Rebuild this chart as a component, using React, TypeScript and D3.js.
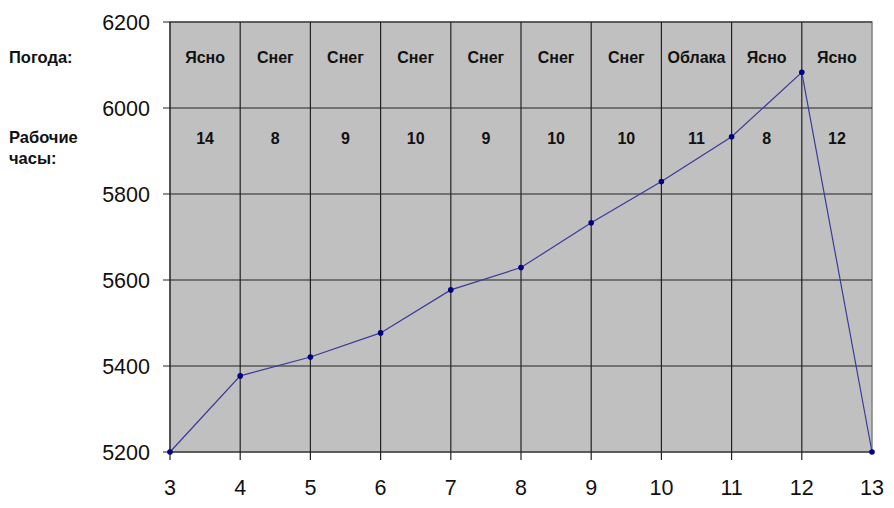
import React from "react";
import * as d3 from "d3";

const days = [3, 4, 5, 6, 7, 8, 9, 10, 11, 12, 13];
const values = [5200, 5377, 5421, 5477, 5577, 5629, 5733, 5829, 5933, 6083, 5200];
const weather = ["Ясно", "Снег", "Снег", "Снег", "Снег", "Снег", "Снег", "Облака", "Ясно", "Ясно"];
const hours = ["14", "8", "9", "10", "9", "10", "10", "11", "8", "12"];
const yTicks = [5200, 5400, 5600, 5800, 6000, 6200];
const weatherTitle = "Погода:";
const hoursTitle = ["Рабочие", "часы:"];

export default function App() {
  const W = 894, H = 508;
  const left = 170, right = 872, top = 22, bottom = 452;
  const x = d3.scaleLinear().domain([3, 13]).range([left, right]);
  const y = d3.scaleLinear().domain([5200, 6200]).range([bottom, top]);
  const line = d3.line<number>().x((_, i) => x(days[i])).y((d) => y(d));
  const font = "Arial, 'Liberation Sans', sans-serif";
  return (
    <svg width={W} height={H} style={{ position: "absolute", left: 0, top: 0, background: "#fff" }} fontFamily={font}>
      <rect x={left} y={top} width={right - left} height={bottom - top} fill="#C0C0C0" stroke="#808080" strokeWidth={1.5} />
      {yTicks.map((t) => (
        <g key={"y" + t}>
          <line x1={left - 7} x2={right} y1={y(t)} y2={y(t)} stroke="#222" strokeWidth={1.2} />
          <text x={150} y={y(t) + 7.5} fontSize={21.5} textAnchor="end" fill="#111">{t}</text>
        </g>
      ))}
      {days.map((d) => (
        <g key={"x" + d}>
          {d !== 13 && <line x1={x(d)} x2={x(d)} y1={top} y2={bottom + 8} stroke="#222" strokeWidth={1.2} />}
          <text x={x(d)} y={495} fontSize={21.5} textAnchor="middle" fill="#111">{d}</text>
        </g>
      ))}
      {weather.map((w, i) => (
        <text key={"w" + i} x={(x(days[i]) + x(days[i + 1])) / 2} y={63} fontSize={16} fontWeight="bold" textAnchor="middle" fill="#111">{w}</text>
      ))}
      {hours.map((h, i) => (
        <text key={"h" + i} x={(x(days[i]) + x(days[i + 1])) / 2} y={144} fontSize={16} fontWeight="bold" textAnchor="middle" fill="#111">{h}</text>
      ))}
      <text x={9} y={63} fontSize={16.5} fontWeight="bold" fill="#111">{weatherTitle}</text>
      <text x={9} y={143} fontSize={16.5} fontWeight="bold" fill="#111">{hoursTitle[0]}</text>
      <text x={9} y={164} fontSize={16.5} fontWeight="bold" fill="#111">{hoursTitle[1]}</text>
      <path d={line(values) || ""} fill="none" stroke="#3a3a9a" strokeWidth={1.2} />
      {values.map((v, i) => (
        <circle key={"p" + i} cx={x(days[i])} cy={y(v)} r={2.8} fill="#000080" />
      ))}
    </svg>
  );
}
